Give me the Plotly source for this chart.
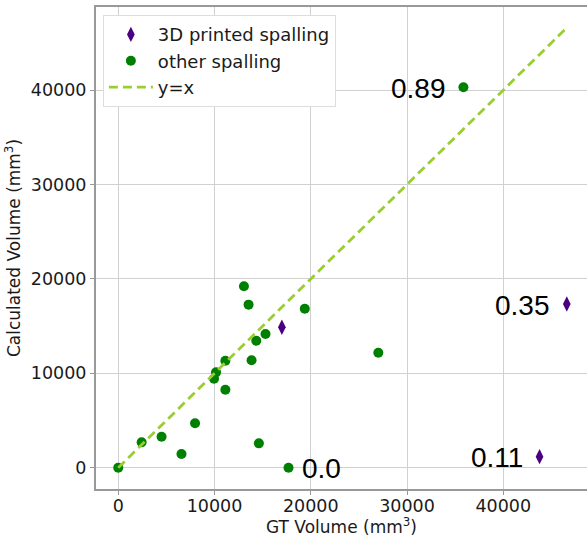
import plotly.graph_objects as go

# other spalling (GT volume, calculated volume) in mm^3
other_gt = [0, 2430, 4500, 6570, 7980, 9950, 10160, 11130, 11130, 13060, 13540,
            13850, 14340, 15300, 14610, 17690, 19380, 27020, 35860]
other_calc = [0, 2690, 3280, 1450, 4700, 9430, 10100, 11330, 8260, 19220, 17270,
              11380, 13450, 14160, 2580, 0, 16840, 12180, 40300]

# 3D printed spalling
printed_gt = [17000, 46600, 43770]
printed_calc = [14870, 17340, 1170]

# y = x reference line
line_x = [0, 46600]
line_y = [0, 46600]

# labelled points
label_x = [35860, 46600, 43770, 17690]
label_y = [40300, 17340, 1170, 0]
label_text = ["0.89", "0.35", "0.11", "0.0"]
label_side = ["left", "left", "left", "right"]

fig = go.Figure()
fig.add_trace(go.Scatter(
    x=printed_gt, y=printed_calc, mode="markers", name="3D printed spalling",
    marker=dict(symbol="diamond-tall", size=11, color="#4B0082")))
fig.add_trace(go.Scatter(
    x=other_gt, y=other_calc, mode="markers", name="other spalling",
    marker=dict(symbol="circle", size=10, color="#008000")))
fig.add_trace(go.Scatter(
    x=line_x, y=line_y, mode="lines", name="y=x",
    line=dict(color="#9ACD32", width=2.8, dash="9px,5px")))

for x, y, t, s in zip(label_x, label_y, label_text, label_side):
    fig.add_annotation(
        x=x, y=y, text=t, showarrow=False,
        xanchor="right" if s == "left" else "left",
        xshift=-15 if s == "left" else 11, yshift=-1,
        font=dict(family="Liberation Sans, Arial", size=28, color="black"))

TXT = "#1a1a1a"
axis_common = dict(
    showgrid=True, gridcolor="#d0d0d0", gridwidth=1,
    zeroline=False, showline=True, linecolor="#999999", linewidth=2,
    ticks="outside", ticklen=4, tickcolor="#999999", tickwidth=1,
    tickfont=dict(family="DejaVu Sans", size=17.5, color=TXT),
)

fig.update_layout(
    width=587, height=537,
    margin=dict(l=96, r=0, t=7, b=48),
    plot_bgcolor="white", paper_bgcolor="white",
    font=dict(family="DejaVu Sans", size=17.5, color=TXT),
    showlegend=True,
    legend=dict(x=0.014, y=0.983, xanchor="left", yanchor="top",
                bgcolor="white", bordercolor="#dddddd", borderwidth=1,
                font=dict(family="DejaVu Sans", size=18, color=TXT),
                tracegroupgap=0, itemwidth=44),
)
fig.update_xaxes(range=[-2311, 48700], tickvals=[0, 10000, 20000, 30000, 40000],
                 ticktext=["0", "10000", "20000", "30000", "40000"],
                 mirror=True, ticklabelstandoff=-4,
                 title=dict(text="GT Volume (mm<sup>3</sup>)", standoff=0,
                            font=dict(family="DejaVu Sans", size=17, color=TXT)),
                 **axis_common)
fig.update_yaxes(range=[-2256, 48800], tickvals=[0, 10000, 20000, 30000, 40000],
                 ticktext=["0", "10000", "20000", "30000", "40000"],
                 title=dict(text="Calculated Volume (mm<sup>3</sup>)", standoff=6,
                            font=dict(family="DejaVu Sans", size=17, color=TXT)),
                 **axis_common)

fig.write_html("out.html")
